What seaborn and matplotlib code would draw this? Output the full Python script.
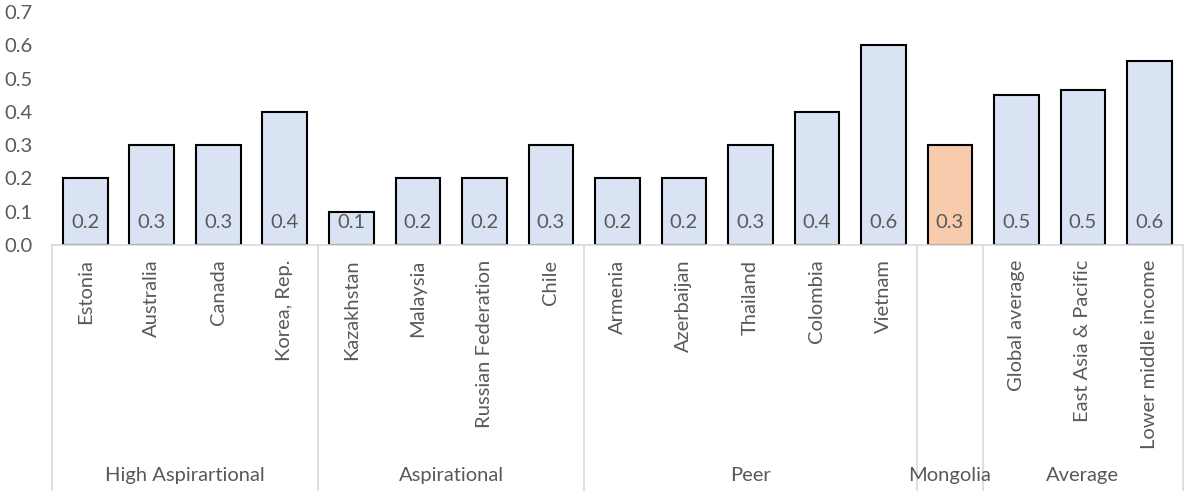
import matplotlib
matplotlib.use("Agg")
import matplotlib.pyplot as plt
import matplotlib.transforms as mtransforms
import seaborn as sns
import pandas as pd

# Data
countries = ["Estonia", "Australia", "Canada", "Korea, Rep.",
             "Kazakhstan", "Malaysia", "Russian Federation", "Chile",
             "Armenia", "Azerbaijan", "Thailand", "Colombia", "Vietnam",
             "Mongolia",
             "Global average", "East Asia & Pacific", "Lower middle income"]
values = [0.2, 0.3, 0.3, 0.4,
          0.1, 0.2, 0.2, 0.3,
          0.2, 0.2, 0.3, 0.4, 0.6,
          0.3,
          0.452, 0.466, 0.553]
groups = ["High Aspirartional", "Aspirational", "Peer", "Mongolia", "Average"]
group_sizes = [4, 4, 5, 1, 3]
tick_labels = list(countries)
tick_labels[13] = ""  # the Mongolia bar is labelled by its group only

BLUE = "#DAE3F3"
ORANGE = "#F8CBAD"
TEXT = "#595959"
GRID = "#D9D9D9"

sns.set_theme(style="white")
plt.rcParams["font.family"] = ["Lato", "DejaVu Sans"]

df = pd.DataFrame({"country": countries, "value": values})
colors = [ORANGE if c == "Mongolia" else BLUE for c in countries]

fig = plt.figure(figsize=(11.84, 4.91), dpi=100)
ax = fig.add_axes([0.0439, 0.501, 0.955, 0.4745])

sns.barplot(data=df, x="country", y="value", hue="country", palette=colors,
            legend=False, width=0.67, edgecolor="black", linewidth=1.5,
            saturation=1, ax=ax)

ax.set_ylim(0, 0.7)
ax.set_xlim(-0.5, len(countries) - 0.5)
ax.set_yticks([i / 10 for i in range(8)])
ax.set_yticklabels([f"{i / 10:.1f}" for i in range(8)], color=TEXT, fontsize=14.5)
ax.set_xticks(range(len(countries)))
ax.set_xticklabels(tick_labels, rotation=90, color=TEXT, fontsize=14.5,
                   va="top", ha="center")
ax.tick_params(axis="both", length=0)
ax.tick_params(axis="x", pad=10.5)
ax.tick_params(axis="y", pad=14)
ax.set_xlabel("")
ax.set_ylabel("")

for s in ["left", "right", "top"]:
    ax.spines[s].set_visible(False)
ax.spines["bottom"].set_color(GRID)
ax.spines["bottom"].set_linewidth(1.2)

# Value labels near the base of each bar
for i, v in enumerate(values):
    ax.text(i, 0.069, f"{v:.1f}", ha="center", va="center",
            color=TEXT, fontsize=14.5)

# Group separators and group labels under the category labels
trans = mtransforms.blended_transform_factory(ax.transData, ax.transAxes)
edges = [-0.5]
for n in group_sizes:
    edges.append(edges[-1] + n)
for e in edges:
    ax.plot([e, e], [0, -1.06], transform=trans, color=GRID, lw=1.2,
            clip_on=False)
for g, a, b in zip(groups, edges[:-1], edges[1:]):
    ax.text((a + b) / 2, -0.99, g, transform=trans, ha="center",
            va="center", color=TEXT, fontsize=14.5)

fig.savefig("out.png", dpi=100)
